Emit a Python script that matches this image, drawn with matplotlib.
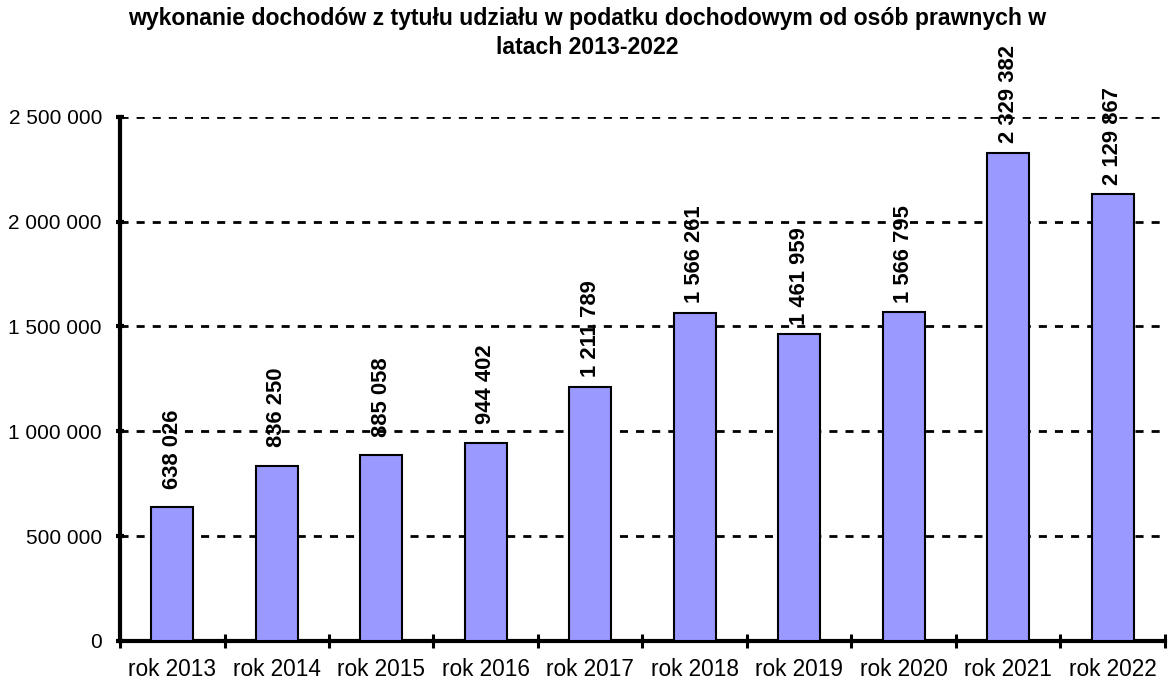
import numpy as np
import matplotlib
matplotlib.use("Agg")
import matplotlib.pyplot as plt
from matplotlib.ticker import FuncFormatter, MultipleLocator

plt.rcParams['font.family'] = ['Liberation Sans', 'DejaVu Sans']

# dane
lata = ["rok 2013", "rok 2014", "rok 2015", "rok 2016", "rok 2017",
        "rok 2018", "rok 2019", "rok 2020", "rok 2021", "rok 2022"]
wykonanie = [638026, 836250, 885058, 944402, 1211789,
             1566261, 1461959, 1566795, 2329382, 2129867]
tytul_1 = "wykonanie dochodów z tytułu udziału w podatku dochodowym od osób prawnych w"
tytul_2 = "latach 2013-2022"


def spacje(v, pos=None):
    return "{:,.0f}".format(v).replace(",", " ")


fig = plt.figure(figsize=(11.7, 6.87), dpi=100)
ax = fig.add_axes([0.1026, 0.067, 0.893, 0.763])

x = np.arange(len(lata))
ax.bar(x, wykonanie, width=0.4, color="#9999ff", edgecolor="black",
       linewidth=1.5, zorder=3)

for xi, v in zip(x, wykonanie):
    ax.annotate(spacje(v), (xi, v), xytext=(0, 42), textcoords="offset points",
                rotation=90, ha="center", va="center", fontsize=15.8,
                fontweight="bold", annotation_clip=False, zorder=4)

ax.set_xlim(-0.5, len(lata) - 0.5)
ax.set_ylim(0, 2500000)
ax.yaxis.set_major_locator(MultipleLocator(500000))
ax.yaxis.set_major_formatter(FuncFormatter(spacje))

ax.set_xticks(x)
ax.set_xticklabels(lata)
ax.set_xticks(np.arange(-0.5, len(lata)), minor=True)
ax.tick_params(axis="x", which="major", length=0, pad=12, labelsize=16.3)
ax.tick_params(axis="x", which="minor", direction="inout", length=10,
               width=2.2)
ax.tick_params(axis="y", which="major", direction="inout", length=6,
               width=3, labelsize=15, pad=10)

# siatka przerywana
for yv in np.arange(500000, 2500001, 500000):
    ax.axhline(yv, color="black", lw=2, ls=(0, (2.9, 2.9)), zorder=1)

for s in ["top", "right"]:
    ax.spines[s].set_visible(False)
ax.spines["left"].set_linewidth(3)
ax.spines["bottom"].set_linewidth(3)

# tytul w dwoch liniach
fig.text(0.502, 1 - 19 / 687, tytul_1, ha="center", va="center",
         fontsize=16.6, fontweight="bold")
fig.text(0.502, 1 - 48 / 687, tytul_2, ha="center", va="center",
         fontsize=16.6, fontweight="bold")

fig.savefig("out.png", dpi=100)
